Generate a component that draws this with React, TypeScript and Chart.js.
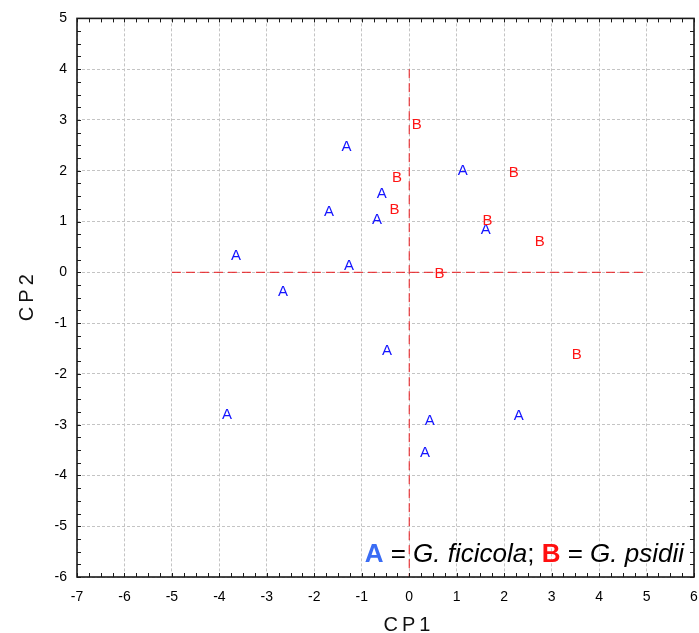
import { useEffect, useRef } from "react";
import { Chart, registerables } from "chart.js";

Chart.register(...registerables);

// Principal component scores (CP1, CP2) for each isolate
const groupA_CP1 = [-1.32, 1.13, -0.58, -1.69, -0.68, 1.61, -3.65, -1.27, -2.66, -0.47, -3.84, 0.43, 2.31, 0.33];
const groupA_CP2 = [2.5, 2.03, 1.56, 1.22, 1.06, 0.87, 0.35, 0.16, -0.37, -1.52, -2.78, -2.91, -2.81, -3.54];
const groupB_CP1 = [0.16, 2.2, -0.26, -0.31, 1.65, 2.75, 0.64, 3.53];
const groupB_CP2 = [2.93, 1.99, 1.89, 1.26, 1.04, 0.63, 0.0, -1.61];

// Axis ranges
const xRange = [-7, 6];
const yRange = [-6, 5];

// Reference lines through the origin
const hLineX = [-5, 5];
const vLineY = [4, -6];

const FONT = "'Liberation Sans', Arial, sans-serif";
const CANVAS_W = 730;

const letterOf: Record<string, string> = { A: "A", B: "B" };

const letterPlugin = {
  id: "letters",
  afterDatasetsDraw(chart: any) {
    const ctx = chart.ctx;
    chart.data.datasets.forEach((ds: any, i: number) => {
      const letter = letterOf[ds.label];
      if (!letter) return;
      const meta = chart.getDatasetMeta(i);
      ctx.save();
      ctx.font = `15px ${FONT}`;
      ctx.fillStyle = ds.letterColor;
      ctx.textAlign = "center";
      ctx.textBaseline = "alphabetic";
      meta.data.forEach((el: any) => {
        ctx.fillText(letter, el.x, el.y + 5.4);
      });
      ctx.restore();
    });
  },
};

const framePlugin = {
  id: "frame",
  afterDraw(chart: any) {
    const ctx = chart.ctx;
    const { left, right, top, bottom } = chart.chartArea;
    const xs = chart.scales.x;
    const ys = chart.scales.y;
    ctx.save();
    ctx.strokeStyle = "#1a1a1a";
    ctx.lineWidth = 1;
    // minor and major ticks pointing inward on all four sides
    const tl = 4;
    ctx.beginPath();
    for (let v = xRange[0]; v <= xRange[1] + 1e-9; v += 0.25) {
      const px = Math.round(xs.getPixelForValue(v)) + 0.5;
      ctx.moveTo(px, bottom);
      ctx.lineTo(px, bottom - tl);
      ctx.moveTo(px, top);
      ctx.lineTo(px, top + tl);
    }
    for (let v = yRange[0]; v <= yRange[1] + 1e-9; v += 0.25) {
      const py = Math.round(ys.getPixelForValue(v)) + 0.5;
      ctx.moveTo(left, py);
      ctx.lineTo(left + tl, py);
      ctx.moveTo(right, py);
      ctx.lineTo(right - tl, py);
    }
    ctx.stroke();
    ctx.lineWidth = 1.6;
    ctx.strokeRect(left, top, right - left, bottom - top);

    // axis titles with wide letter spacing
    const spaced = (text: string, cx: number, cy: number, gap: number) => {
      ctx.font = `20px ${FONT}`;
      const widths = Array.from(text).map((c) => ctx.measureText(c).width);
      const total = widths.reduce((a, b) => a + b, 0) + gap * (text.length - 1);
      let x = cx - total / 2;
      ctx.textAlign = "left";
      ctx.textBaseline = "alphabetic";
      Array.from(text).forEach((c, i) => {
        ctx.fillText(c, x, cy);
        x += widths[i] + gap;
      });
    };
    ctx.fillStyle = "#111";
    spaced("CP1", 407, 631, 4);
    ctx.save();
    ctx.translate(33, (top + bottom) / 2);
    ctx.rotate(-Math.PI / 2);
    spaced("CP2", 0, 0, 4);
    ctx.restore();

    // key for the two letters
    const parts = [
      { t: "A", f: `bold 26px ${FONT}`, c: "#3a6cf4" },
      { t: " = ", f: `26px ${FONT}`, c: "#000" },
      { t: "G. ficicola", f: `italic 26px ${FONT}`, c: "#000" },
      { t: "; ", f: `26px ${FONT}`, c: "#000" },
      { t: "B", f: `bold 26px ${FONT}`, c: "#ff1010" },
      { t: " = ", f: `26px ${FONT}`, c: "#000" },
      { t: "G. psidii", f: `italic 26px ${FONT}`, c: "#000" },
    ];
    let totalW = 0;
    const ws = parts.map((p) => {
      ctx.font = p.f;
      const w = ctx.measureText(p.t).width;
      totalW += w;
      return w;
    });
    let x = right - 10 - totalW;
    const baseY = bottom - 15;
    ctx.textAlign = "left";
    ctx.textBaseline = "alphabetic";
    parts.forEach((p, i) => {
      ctx.font = p.f;
      ctx.fillStyle = p.c;
      ctx.fillText(p.t, x, baseY);
      x += ws[i];
    });
    ctx.restore();
  },
};

export default function App() {
  const ref = useRef<HTMLCanvasElement>(null);

  useEffect(() => {
    if (!ref.current) return;
    const toPts = (xs: number[], ys: number[]) => xs.map((x, i) => ({ x, y: ys[i] }));
    const chart = new Chart(ref.current, {
      type: "scatter",
      data: {
        datasets: [
          {
            label: "H",
            data: [
              { x: hLineX[0], y: 0 },
              { x: hLineX[1], y: 0 },
            ],
            showLine: true,
            borderColor: "#e8181c",
            borderWidth: 1,
            borderDash: [9, 5],
            pointRadius: 0,
          },
          {
            label: "V",
            data: [
              { x: 0, y: vLineY[0] },
              { x: 0, y: vLineY[1] },
            ],
            showLine: true,
            borderColor: "#e8181c",
            borderWidth: 1,
            borderDash: [9, 5],
            pointRadius: 0,
          },
          {
            label: "A",
            data: toPts(groupA_CP1, groupA_CP2),
            pointRadius: 0,
            pointHoverRadius: 0,
            letterColor: "#1414ff",
          } as any,
          {
            label: "B",
            data: toPts(groupB_CP1, groupB_CP2),
            pointRadius: 0,
            pointHoverRadius: 0,
            letterColor: "#ff1414",
          } as any,
        ],
      },
      options: {
        responsive: false,
        animation: false,
        events: [],
        layout: { padding: { top: 18, right: CANVAS_W - 694, left: 0, bottom: 0 } },
        plugins: { legend: { display: false }, tooltip: { enabled: false } },
        scales: {
          x: {
            type: "linear",
            min: xRange[0],
            max: xRange[1],
            afterFit: (s: any) => {
              s.height = 56;
            },
            ticks: {
              stepSize: 1,
              padding: 12,
              color: "#000",
              font: { family: FONT, size: 14 },
            },
            grid: { color: "#c4c4c4", lineWidth: 1, drawTicks: false },
            border: { display: false, dash: [3, 2] },
          },
          y: {
            type: "linear",
            min: yRange[0],
            max: yRange[1],
            afterFit: (s: any) => {
              s.width = 77;
            },
            ticks: {
              stepSize: 1,
              padding: 10,
              color: "#000",
              font: { family: FONT, size: 14 },
            },
            grid: { color: "#c4c4c4", lineWidth: 1, drawTicks: false },
            border: { display: false, dash: [3, 2] },
          },
        },
      },
      plugins: [letterPlugin, framePlugin],
    });
    return () => chart.destroy();
  }, []);

  return (
    <div
      style={{
        position: "absolute",
        left: 0,
        top: 0,
        width: 699,
        height: 633,
        overflow: "hidden",
        background: "#fff",
      }}
    >
      <canvas ref={ref} width={CANVAS_W} height={633} style={{ display: "block" }} />
    </div>
  );
}
